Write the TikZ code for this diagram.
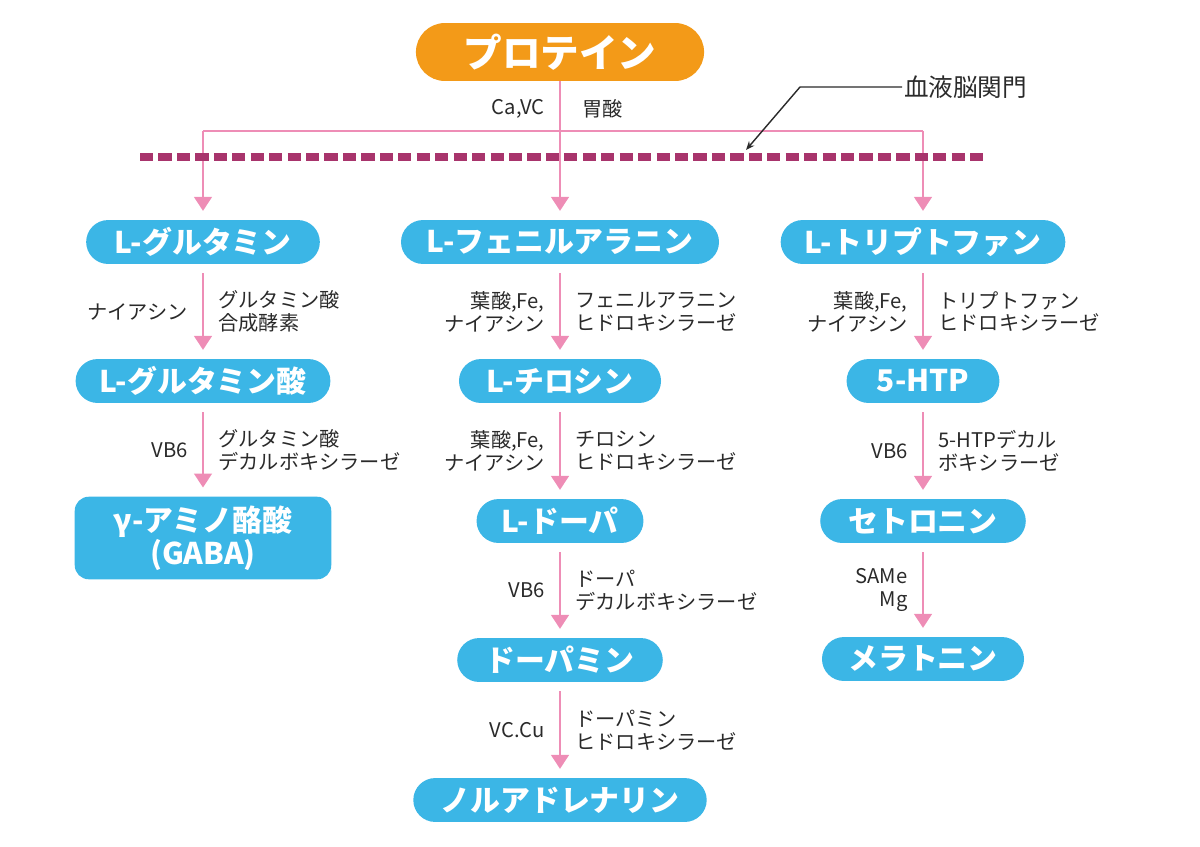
\documentclass[tikz,border=0pt]{standalone}
\usepackage{fontspec}
\setmainfont{Noto Sans CJK JP}
\usetikzlibrary{arrows.meta, positioning}

\definecolor{pillblue}{HTML}{3BB6E6}
\definecolor{pillorange}{HTML}{F39A18}
\definecolor{flowpink}{HTML}{EE8DB6}
\definecolor{barrierred}{HTML}{A8346C}
\definecolor{labelgray}{HTML}{2A2A2A}

\tikzset{
	pill/.style={fill=pillblue, text=white, inner sep=0pt,
		font=\bfseries\fontsize{17}{19}\selectfont,
		minimum height=25pt, rounded corners=12.5pt},
	flow/.style={draw=flowpink, line width=1.6pt,
		-{Triangle[width=10pt,length=8pt]}, shorten <=5pt, shorten >=5pt},
	bus/.style={draw=flowpink, line width=1.6pt},
	cof/.style={midway, left=7pt, inner sep=1pt, align=right,
		text=labelgray, font=\fontsize{11.5}{13}\selectfont},
	enz/.style={midway, right=7pt, inner sep=1pt, align=left,
		text=labelgray, font=\fontsize{11.5}{13}\selectfont},
	barrier/.style={draw=barrierred, line width=4pt, dash pattern=on 7.5pt off 3pt},
}

\begin{document}
\begin{tikzpicture}[x=0.02cm, y=-0.02cm]
	
	% Canvas (pixel grid of the reference)
	\useasboundingbox (0,0) rectangle (1200,846);
	
	% Columns
	\def\colL{203}
	\def\colM{560}
	\def\colR{923}
	
	% Source
	\node[pill, fill=pillorange, minimum width=164pt, minimum height=33pt,
	rounded corners=16.5pt, font=\bfseries\fontsize{22}{24}\selectfont]
	(prot) at (\colM,52) {プロテイン};
	
	% Amino acids (below the barrier)
	\node[pill, minimum width=133pt] (glu) at (\colL,242) {L-グルタミン};
	\node[pill, minimum width=181pt] (phe) at (\colM,242) {L-フェニルアラニン};
	\node[pill, minimum width=162pt] (trp) at (\colR,242) {L-トリプトファン};
	
	% Second step
	\node[pill, minimum width=145pt] (glua) at (\colL,381) {L-グルタミン酸};
	\node[pill, minimum width=115pt] (tyr) at (\colM,381) {L-チロシン};
	\node[pill, minimum width=87pt]  (htp) at (\colR,381) {5-HTP};
	
	% Third step
	\node[pill, minimum width=146pt, minimum height=47pt, rounded corners=8pt,
	align=center, font=\bfseries\fontsize{17}{19}\selectfont]
	(gaba) at (\colL,538) {γ-アミノ酪酸\\(GABA)};
	\node[pill, minimum width=95pt]  (dopa) at (\colM,521) {L-ドーパ};
	\node[pill, minimum width=117pt] (sero) at (\colR,521) {セトロニン};
	
	% Fourth and fifth step
	\node[pill, minimum width=117pt] (dopm) at (\colM,660) {ドーパミン};
	\node[pill, minimum width=115pt] (mela) at (\colR,659) {メラトニン};
	\node[pill, minimum width=167pt] (nora) at (\colM,800) {ノルアドレナリン};
	
	% Split into three pathways
	\coordinate (split) at (\colM,131);
	\draw[bus] (split -| glu) -- (split -| trp);
	\draw[flow, shorten <=0pt] (prot) -- (phe)
	node[cof, pos=0.2] {Ca,VC} node[enz, pos=0.2, right=11pt] {胃酸};
	\draw[flow, shorten <=0pt] (split -| glu) -- (glu);
	\draw[flow, shorten <=0pt] (split -| trp) -- (trp);
	
	% Blood-brain barrier
	\draw[barrier] (140,157) -- (985,157);
	\node[anchor=west, inner sep=1pt, text=labelgray,
	font=\fontsize{14}{16}\selectfont] (bbb) at (902,87) {血液脳関門};
	\coordinate (bbbknee) at (800,87);
	\coordinate (bbbtip) at (746,150);
	\draw[labelgray, line width=0.8pt, -{Stealth[length=5pt,width=4pt]}]
	(bbb.west) -- (bbbknee) -- (bbbtip);
	
	% Glutamine pathway
	\draw[flow] (glu) -- (glua)
	node[cof] {ナイアシン} node[enz] {グルタミン酸\\合成酵素};
	\draw[flow] (glua) -- (gaba.north -| glua)
	node[cof] {VB6} node[enz] {グルタミン酸\\デカルボキシラーゼ};
	
	% Phenylalanine pathway
	\draw[flow] (phe) -- (tyr)
	node[cof] {葉酸,Fe,\\ナイアシン} node[enz] {フェニルアラニン\\ヒドロキシラーゼ};
	\draw[flow] (tyr) -- (dopa.north -| tyr)
	node[cof] {葉酸,Fe,\\ナイアシン} node[enz] {チロシン\\ヒドロキシラーゼ};
	\draw[flow] (dopa.south -| dopm) -- (dopm)
	node[cof] {VB6} node[enz] {ドーパ\\デカルボキシラーゼ};
	\draw[flow] (dopm) -- (nora)
	node[cof] {VC.Cu} node[enz] {ドーパミン\\ヒドロキシラーゼ};
	
	% Tryptophan pathway
	\draw[flow] (trp) -- (htp)
	node[cof] {葉酸,Fe,\\ナイアシン} node[enz] {トリプトファン\\ヒドロキシラーゼ};
	\draw[flow] (htp) -- (sero)
	node[cof] {VB6} node[enz] {5-HTPデカル\\ボキシラーゼ};
	\draw[flow] (sero) -- (mela)
	node[cof] {SAMe\\Mg};
	
\end{tikzpicture}
\end{document}
